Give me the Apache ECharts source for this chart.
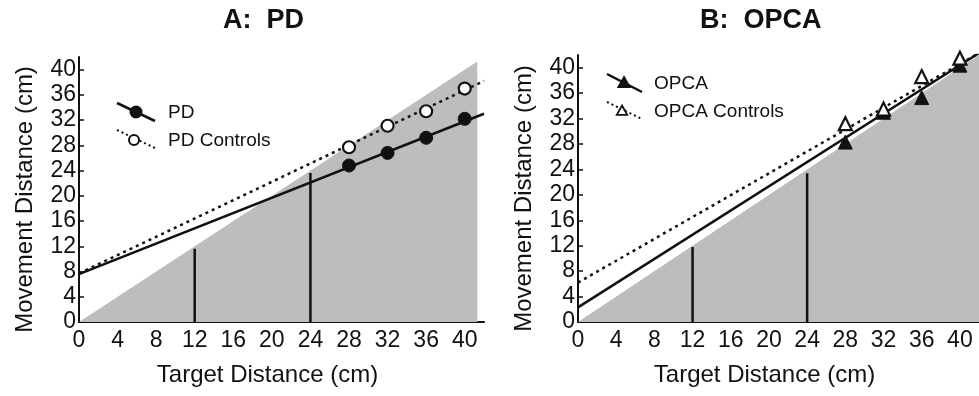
<!DOCTYPE html>
<html>
<head>
<meta charset="utf-8">
<script src="https://cdn.jsdelivr.net/npm/echarts@6/dist/echarts.min.js"></script>
<style>
html,body{margin:0;padding:0;background:#fff;}
#chart{width:979px;height:396px;}
</style>
</head>
<body>
<div id="chart"></div>
<script>
// ---- data ----
const xTicks = [0, 4, 8, 12, 16, 20, 24, 28, 32, 36, 40];
const yTicks = [0, 4, 8, 12, 16, 20, 24, 28, 32, 36, 40];
const targetX = [28, 32, 36, 40];

const pdValues = [24.8, 26.8, 29.2, 32.2];
const pdControlValues = [27.7, 31.1, 33.4, 37.0];
const pdFit = [[0, 7.6], [42, 33.0]];
const pdControlFit = [[0, 7.7], [42, 38.2]];

const opcaValues = [28.3, 33.0, 35.3, 40.4];
const opcaControlValues = [31.2, 33.5, 38.6, 41.5];
const opcaFit = [[0, 2.3], [42, 42.3]];
const opcaControlFit = [[0, 6.2], [42, 42.3]];

const shadeLeft = [[0, 0], [41.3, 41.3]];
const shadeRight = [[0, 0], [42, 42]];
const refLinesLeft = [[12, 11.6], [24, 23.6]];
const refLinesRight = [[12, 11.8], [24, 23.4]];

const titles = ['A:  PD', 'B:  OPCA'];
const xName = 'Target Distance (cm)';
const yName = 'Movement Distance (cm)';
const legendLeft = ['PD', 'PD Controls'];
const legendRight = ['OPCA', 'OPCA Controls'];

// ---- chart ----
const FONT = "'Liberation Sans', Arial, Helvetica, sans-serif";
const INK = '#111';
const SHADE = '#bdbdbd';
const chart = echarts.init(document.getElementById('chart'), null, {renderer: 'canvas'});

function xAxisFor(g) {
  return {
    type: 'value', gridIndex: g, min: 0, max: 42,
    axisLine: {show: true, onZero: false, lineStyle: {color: INK, width: 2}},
    axisTick: {show: true, inside: true, length: 5, customValues: xTicks, lineStyle: {color: INK, width: 1.5}},
    axisLabel: {customValues: xTicks, fontSize: 23, color: INK, margin: 7, fontFamily: FONT},
    splitLine: {show: false},
    name: xName, nameLocation: 'middle', nameGap: 41,
    nameTextStyle: {fontSize: 24, color: INK, fontFamily: FONT, padding: [0, 28, 0, 0]}
  };
}
function yAxisFor(g) {
  return {
    type: 'value', gridIndex: g, min: 0, max: 42,
    axisLine: {show: true, onZero: false, lineStyle: {color: INK, width: 2}},
    axisTick: {show: true, inside: true, length: 5, customValues: yTicks, lineStyle: {color: INK, width: 1.5}},
    axisLabel: {customValues: yTicks, fontSize: 23, color: INK, margin: 3, fontFamily: FONT},
    splitLine: {show: false},
    name: yName, nameLocation: 'middle', nameGap: 42,
    nameTextStyle: {fontSize: 24, color: INK, fontFamily: FONT, padding: [0, 20, 0, 0]}
  };
}

function panelSeries(g, shade, refs, fitA, fitB, valsA, valsB, markerA, markerB) {
  const s = [];
  s.push({
    type: 'line', xAxisIndex: g, yAxisIndex: g, data: shade, symbol: 'none', silent: true,
    lineStyle: {opacity: 0}, areaStyle: {color: SHADE, opacity: 1}, z: 1
  });
  refs.forEach(function (r) {
    s.push({
      type: 'line', xAxisIndex: g, yAxisIndex: g, data: [[r[0], 0], [r[0], r[1]]], symbol: 'none',
      lineStyle: {color: INK, width: 2.5}, z: 2
    });
  });
  s.push({
    type: 'line', xAxisIndex: g, yAxisIndex: g, data: fitB, symbol: 'none',
    lineStyle: {color: INK, width: 2.5, type: [3, 4]}, z: 3
  });
  s.push({
    type: 'line', xAxisIndex: g, yAxisIndex: g, data: fitA, symbol: 'none',
    lineStyle: {color: INK, width: 2.5}, z: 3
  });
  s.push({
    type: 'scatter', xAxisIndex: g, yAxisIndex: g,
    data: targetX.map(function (x, i) { return [x, valsA[i]]; }),
    symbol: markerA, symbolSize: markerA === 'circle' ? 13 : 14,
    itemStyle: {color: INK, borderColor: INK, borderWidth: 1, opacity: 1}, z: 4
  });
  s.push({
    type: 'scatter', xAxisIndex: g, yAxisIndex: g,
    data: targetX.map(function (x, i) { return [x, valsB[i]]; }),
    symbol: markerB, symbolSize: markerB === 'circle' ? 12 : 13,
    itemStyle: {color: '#fff', borderColor: INK, borderWidth: 2.2, opacity: 1}, z: 5
  });
  return s;
}

const series = [].concat(
  panelSeries(0, shadeLeft, refLinesLeft, pdFit, pdControlFit, pdValues, pdControlValues, 'circle', 'circle'),
  panelSeries(1, shadeRight, refLinesRight, opcaFit, opcaControlFit, opcaValues, opcaControlValues, 'triangle', 'triangle')
);

function legendText(x, y, t) {
  return {type: 'text', x: x, y: y, style: {text: t, font: '19px ' + FONT, fill: INK, verticalAlign: 'middle', align: 'left'}, z: 10};
}
function tri(cx, cy, r, filled) {
  return {type: 'polygon', shape: {points: [[cx, cy - r], [cx + r * 0.95, cy + r * 0.7], [cx - r * 0.95, cy + r * 0.7]]},
    style: {fill: filled ? INK : '#fff', stroke: INK, lineWidth: 1.8}, z: 11};
}

const graphic = [
  {type: 'line', shape: {x1: 117, y1: 103, x2: 155, y2: 121}, style: {stroke: INK, lineWidth: 2.5}, z: 10},
  {type: 'circle', shape: {cx: 136, cy: 112, r: 6.5}, style: {fill: INK}, z: 11},
  {type: 'line', shape: {x1: 117, y1: 130, x2: 155, y2: 148}, style: {stroke: INK, lineWidth: 2, lineDash: [2, 3]}, z: 10},
  {type: 'circle', shape: {cx: 134, cy: 140, r: 5}, style: {fill: '#fff', stroke: INK, lineWidth: 2}, z: 11},
  legendText(168, 113, legendLeft[0]),
  legendText(168, 141, legendLeft[1]),
  {type: 'line', shape: {x1: 607, y1: 74, x2: 642, y2: 92}, style: {stroke: INK, lineWidth: 2.5}, z: 10},
  tri(624, 83, 6, true),
  {type: 'line', shape: {x1: 607, y1: 102, x2: 642, y2: 119}, style: {stroke: INK, lineWidth: 2, lineDash: [2, 3]}, z: 10},
  tri(622, 111, 5.5, false),
  legendText(654, 84, legendRight[0]),
  legendText(654, 112, legendRight[1])
];

chart.setOption({
  animation: false,
  backgroundColor: '#fff',
  title: [
    {text: titles[0], left: 223, top: 7, padding: 0, textStyle: {fontSize: 27, fontWeight: 'bold', color: INK, fontFamily: FONT}},
    {text: titles[1], left: 700, top: 7, padding: 0, textStyle: {fontSize: 27, fontWeight: 'bold', color: INK, fontFamily: FONT}}
  ],
  grid: [
    {left: 79, top: 57, width: 405, height: 265, containLabel: false},
    {left: 578, top: 55, width: 403, height: 267, containLabel: false}
  ],
  xAxis: [xAxisFor(0), xAxisFor(1)],
  yAxis: [yAxisFor(0), yAxisFor(1)],
  series: series,
  graphic: graphic
});
</script>
</body>
</html>
